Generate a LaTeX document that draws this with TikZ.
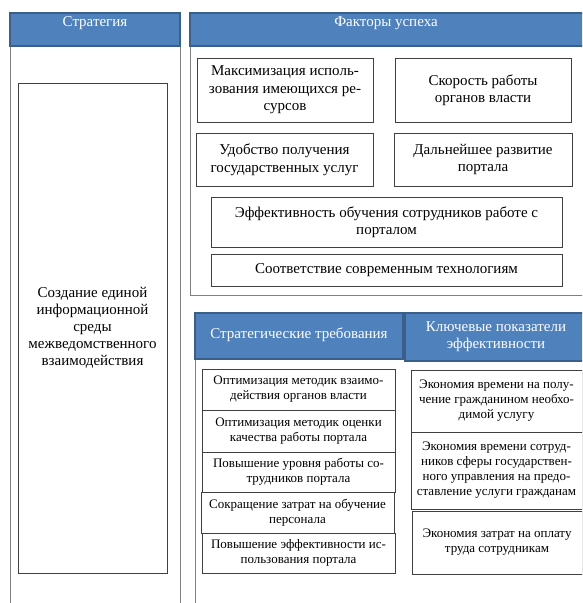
\documentclass[tikz,border=0pt]{standalone}
\usepackage{fontspec}
\setmainfont{Liberation Serif}
\definecolor{hdrblue}{HTML}{4F81BD}
\definecolor{hdrdark}{HTML}{3A5F8B}
\definecolor{framegray}{HTML}{808080}
\definecolor{boxgray}{HTML}{404040}
\tikzset{
  hdr/.style={draw=hdrdark, fill=hdrblue, line width=1.2pt, inner sep=0pt},
  hdrtext/.style={text=white, font=\fontsize{15}{17}\selectfont, align=center, inner sep=0pt},
  fbox/.style={draw=boxgray, line width=0.8pt, inner sep=0pt, align=center, font=\fontsize{15}{17.5}\selectfont},
  sbox/.style={draw=boxgray, line width=0.8pt, inner sep=0pt, align=center, font=\fontsize{13}{15}\selectfont},
  frameline/.style={draw=framegray, line width=1pt},
}
\begin{document}
\begin{tikzpicture}[x=1pt,y=-1pt]
\useasboundingbox (0,0) rectangle (582,603);
\clip (0,0) rectangle (582,603);
\fill[white] (0,0) rectangle (582,603);

% frames
\coordinate (l1t) at (10,46); \coordinate (l1b) at (10,603);
\coordinate (l2t) at (180,46); \coordinate (l2b) at (180,603);
\coordinate (f1t) at (190,46); \coordinate (f1b) at (190,295); \coordinate (f1r) at (586,295);
\coordinate (b1t) at (195,359); \coordinate (b1b) at (195,603);
\draw[frameline] (l1t) -- (l1b);
\draw[frameline] (l2t) -- (l2b);
\draw[frameline] (f1t) -- (f1b) -- (f1r);
\draw[frameline] (b1t) -- (b1b);

% headers
\node[hdr, minimum width=170pt, minimum height=33pt] (hs) at (95,29.5) {};
\node[hdrtext] (hst) at (95,23) {Стратегия};
\node[hdr, minimum width=396pt, minimum height=33pt] (hf) at (388,29.5) {};
\node[hdrtext] (hft) at (386,23) {Факторы успеха};
\node[hdr, minimum width=208pt, minimum height=46pt] (hr) at (299,336) {};
\node[hdrtext] (hrt) at (299,335) {Стратегические требования};
\node[hdr, minimum width=182pt, minimum height=48pt] (hk) at (496,337) {};
\node[hdrtext] (hkt) at (496,337) {Ключевые показатели\\эффективности};

% strategy
\node[fbox, minimum width=149pt, minimum height=490pt, font=\fontsize{15}{17}\selectfont] (st) at (92.5,328)
  {Создание единой\\информационной\\среды\\межведомственного\\взаимодействия};

% factors
\node[fbox, minimum width=176pt, minimum height=64pt] (f1) at (285,90) {Максимизация исполь-\\зования имеющихся ре-\\сурсов};
\node[fbox, minimum width=176pt, minimum height=64pt] (f2) at (483,90) {Скорость работы\\органов власти};
\node[fbox, minimum width=177pt, minimum height=53pt] (f3) at (284.5,159.5) {Удобство получения\\государственных услуг};
\node[fbox, minimum width=178pt, minimum height=53pt] (f4) at (483,159.5) {Дальнейшее развитие\\портала};
\node[fbox, minimum width=351pt, minimum height=50pt] (f5) at (386.5,222) {Эффективность обучения сотрудников работе с\\порталом};
\node[fbox, minimum width=351pt, minimum height=32pt] (f6) at (386.5,270) {Соответствие современным технологиям};

% requirements
\node[sbox, minimum width=193pt, minimum height=41pt] (r1) at (298.5,389.5) {Оптимизация методик взаимо-\\действия органов власти};
\node[sbox, minimum width=193pt, minimum height=42pt] (r2) at (298.5,431) {Оптимизация методик оценки\\качества работы портала};
\node[sbox, minimum width=193pt, minimum height=40pt] (r3) at (298.5,472) {Повышение уровня работы со-\\трудников портала};
\node[sbox, minimum width=193pt, minimum height=41pt] (r4) at (297.5,512.5) {Сокращение затрат на обучение\\персонала};
\node[sbox, minimum width=193pt, minimum height=40pt] (r5) at (298.5,553) {Повышение эффективности ис-\\пользования портала};

% KPIs
\node[sbox, minimum width=171pt, minimum height=62pt] (k1) at (496.5,401) {Экономия времени на полу-\\чение гражданином необхо-\\димой услугу};
\node[sbox, minimum width=171pt, minimum height=77pt] (k2) at (496.5,470.5) {Экономия времени сотруд-\\ников сферы государствен-\\ного управления на предо-\\ставление услуги гражданам};
\node[sbox, minimum width=170pt, minimum height=63pt] (k3) at (497,542.5) {Экономия затрат на оплату\\труда сотрудникам};
\end{tikzpicture}
\end{document}
